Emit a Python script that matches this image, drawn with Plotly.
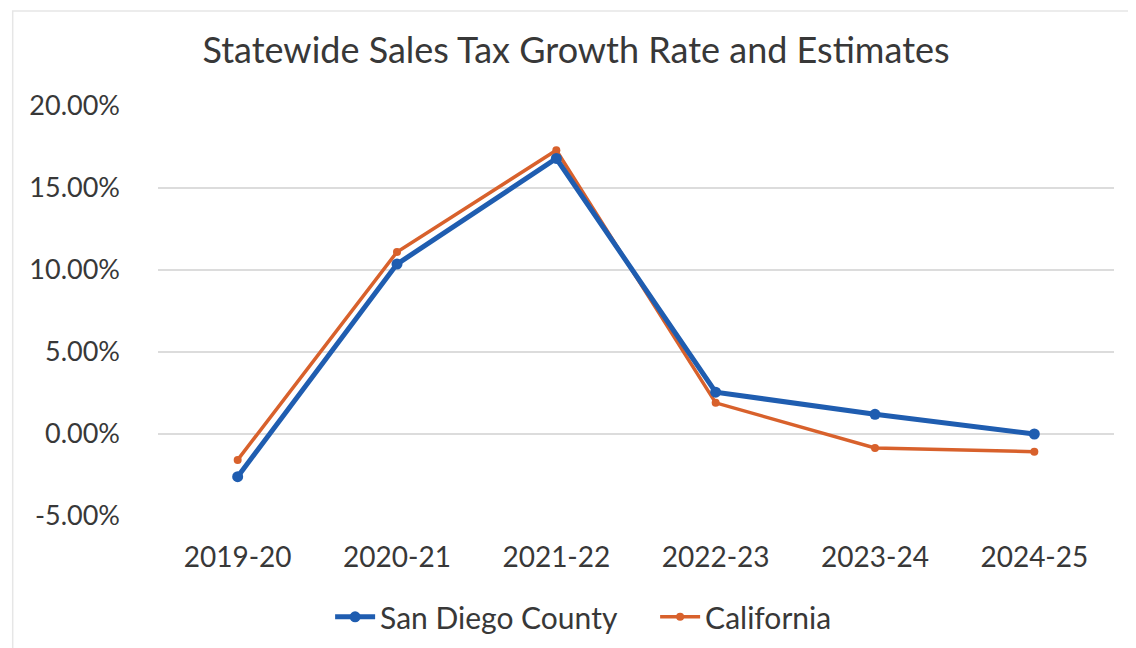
import plotly.graph_objects as go

years = ["2019-20", "2020-21", "2021-22", "2022-23", "2023-24", "2024-25"]
san_diego = [-2.6, 10.36, 16.8, 2.55, 1.2, 0.0]
california = [-1.58, 11.1, 17.3, 1.9, -0.85, -1.08]
y_ticks = [-5, 0, 5, 10, 15, 20]
y_tick_labels = ["-5.00%", "0.00%", "5.00%", "10.00%", "15.00%", "20.00%"]

BLUE = "#1f5db0"
ORANGE = "#d8612c"
TEXT = "#383838"
FONT = "Lato"

fig = go.Figure()
fig.add_trace(go.Scatter(
    x=years, y=california, name="California", mode="lines+markers",
    line=dict(color=ORANGE, width=3.5), marker=dict(color=ORANGE, size=8, symbol="circle"),
))
fig.add_trace(go.Scatter(
    x=years, y=san_diego, name="San Diego County", mode="lines+markers",
    line=dict(color=BLUE, width=5), marker=dict(color=BLUE, size=11, symbol="circle"),
))

fig.update_layout(
    width=1136, height=648,
    margin=dict(l=150, r=30, t=98, b=140, autoexpand=False),
    paper_bgcolor="white", plot_bgcolor="white",
    font=dict(family=FONT, color=TEXT),
    title=dict(text="Statewide Sales Tax Growth Rate and Estimates",
               x=0.5, xanchor="center", y=0.935, yanchor="middle",
               font=dict(family=FONT, size=36, color=TEXT)),
    xaxis=dict(type="category", range=[-0.5, 5.5], showgrid=False, zeroline=False,
               showline=False, automargin=False,
               ticks="", tickfont=dict(family=FONT, size=28, color=TEXT),
               ticklabelstandoff=22),
    yaxis=dict(range=[-5, 20], tickvals=y_ticks, ticktext=y_tick_labels,
               automargin=False,
               showgrid=True, gridcolor="#dcdcdc", gridwidth=1.5,
               zeroline=False, showline=False, ticks="",
               tickfont=dict(family=FONT, size=27, color=TEXT),
               ticklabelstandoff=37),
    legend=dict(orientation="h", x=0.52, xanchor="center", y=-0.246, yanchor="middle",
                traceorder="reversed", font=dict(family=FONT, size=30, color=TEXT),
                itemwidth=40, entrywidth=270, entrywidthmode="pixels"),
    showlegend=True,
)

fig.add_shape(type="rect", xref="paper", yref="paper",
              x0=-0.152, x1=1.1, y0=-0.5, y1=1.232,
              line=dict(color="#e6e6e6", width=1.5), layer="below")

fig.write_html("out.html")
